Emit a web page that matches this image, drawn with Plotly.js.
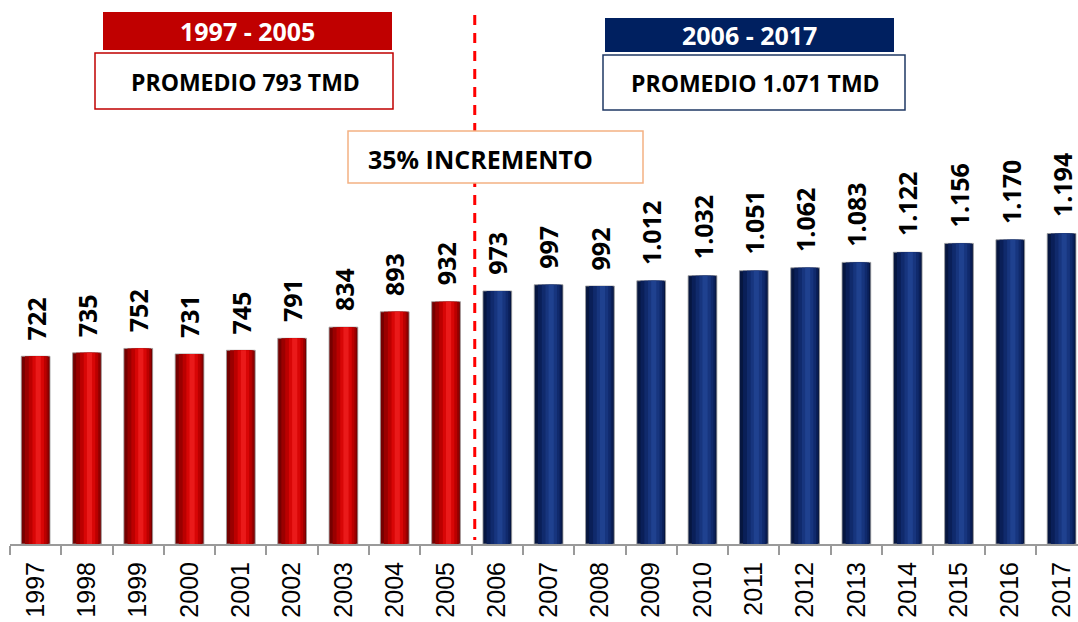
<!DOCTYPE html>
<html>
<head>
<meta charset="utf-8">
<script src="https://cdn.plot.ly/plotly-3.0.1.min.js"></script>
<style>html,body{margin:0;padding:0;background:#fff;}#chart{width:1078px;height:622px;}</style>
</head>
<body>
<div id="chart"></div>
<script>
// ---- data ----
const years = ["1997","1998","1999","2000","2001","2002","2003","2004","2005","2006","2007","2008","2009","2010","2011","2012","2013","2014","2015","2016","2017"];
const valuesA = [722,735,752,731,745,791,834,893,932];            // 1997-2005
const valuesB = [973,997,992,1012,1032,1051,1062,1083,1122,1156,1170,1194]; // 2006-2017
const yearsA = years.slice(0, valuesA.length);
const yearsB = years.slice(valuesA.length);
const periodA = "1997 - 2005";
const periodB = "2006 - 2017";
const avgA = "PROMEDIO 793 TMD";
const avgB = "PROMEDIO 1.071 TMD";
const incText = "35% INCREMENTO";

// ---- layout helpers ----
const W = 1078, H = 622, ML = 10, MT = 0, MB = 78;
const PW = W - ML, PH = H - MT - MB;
const px = x => (x - ML) / PW;
const py = y => 1 - (y - MT) / PH;
const fmt = v => String(v).replace(/\B(?=(\d{3})+(?!\d))/g, ".");

const BW = 0.56;
const redLayers  = [["#760000",1.00,0],["#9a0000",0.82,0.02],["#bb0000",0.62,0.04],["#d80606",0.40,0.05],["#ea1a1a",0.18,0.05]];
const blueLayers = [["#061640",1.00,0],["#0a1f58",0.82,0.02],["#102a6c",0.62,0.04],["#17357e",0.40,0.05],["#1f418f",0.18,0.05]];

const traces = [];
function addLayers(xs, ys, layers) {
  layers.forEach((L, k) => {
    const w = BW * L[1];
    traces.push({
      type: "bar", x: xs, y: ys,
      width: w, offset: -w / 2 + L[2],
      marker: {color: L[0], line: {width: k === 0 ? 0.8 : 0, color: "#9a9a9a"}},
      hoverinfo: "skip", showlegend: false
    });
  });
}
addLayers(yearsA, valuesA, redLayers);
addLayers(yearsB, valuesB, blueLayers);

const annotations = [];
const allVals = valuesA.concat(valuesB);
allVals.forEach((v, i) => {
  annotations.push({
    x: i, y: v, xref: "x", yref: "y",
    text: "<b>" + fmt(v) + "</b>", showarrow: false,
    textangle: -90, yanchor: "bottom", xanchor: "center", yshift: 15, borderpad: 0,
    font: {family: "Open Sans", size: 25, color: "#000"}
  });
});
const boxFont = (s, c) => ({family: "Open Sans", size: s, color: c});
annotations.push(
  {xref:"paper", yref:"paper", x:px(247.5), y:py(31), text:"<b>"+periodA+"</b>", showarrow:false, xanchor:"center", yanchor:"middle", font:boxFont(25,"#fff")},
  {xref:"paper", yref:"paper", x:px(245), y:py(82), text:"<b>"+avgA+"</b>", showarrow:false, xanchor:"center", yanchor:"middle", font:boxFont(23,"#000")},
  {xref:"paper", yref:"paper", x:px(749), y:py(35), text:"<b>"+periodB+"</b>", showarrow:false, xanchor:"center", yanchor:"middle", font:boxFont(25,"#fff")},
  {xref:"paper", yref:"paper", x:px(755), y:py(83), text:"<b>"+avgB+"</b>", showarrow:false, xanchor:"center", yanchor:"middle", font:boxFont(23,"#000")},
  {xref:"paper", yref:"paper", x:px(366), y:py(159), text:"<b>"+incText+"</b>", showarrow:false, xanchor:"left", yanchor:"middle", font:boxFont(25,"#000")}
);

const shapes = [
  {type:"line", xref:"x", yref:"paper", x0:8.56, x1:8.56, y0:py(15), y1:py(540), line:{color:"#ff0000", width:3, dash:"10px,8px"}},
  {type:"rect", xref:"paper", yref:"paper", x0:px(103), x1:px(392), y0:py(50), y1:py(12), fillcolor:"#c00000", line:{width:0}},
  {type:"rect", xref:"paper", yref:"paper", x0:px(95), x1:px(393), y0:py(109), y1:py(53), fillcolor:"#fff", line:{color:"#c00000", width:1.5}},
  {type:"rect", xref:"paper", yref:"paper", x0:px(605), x1:px(894), y0:py(52), y1:py(18), fillcolor:"#002060", line:{width:0}},
  {type:"rect", xref:"paper", yref:"paper", x0:px(603), x1:px(905), y0:py(110), y1:py(55), fillcolor:"#fff", line:{color:"#1f3864", width:1.5}},
  {type:"rect", xref:"paper", yref:"paper", x0:px(348), x1:px(643), y0:py(183), y1:py(131), fillcolor:"#fff", line:{color:"#f4b183", width:1.5}}
];

const layout = {
  width: W, height: H,
  margin: {l: ML, r: 0, t: MT, b: MB, pad: 0},
  paper_bgcolor: "#fff", plot_bgcolor: "#fff",
  barmode: "overlay",
  showlegend: false,
  xaxis: {
    type: "category", range: [-0.5, 20.32],
    tickangle: -90, tickson: "boundaries",
    ticks: "outside", ticklen: 9, tickwidth: 2, tickcolor: "#9a9a9a",
    ticklabelstandoff: 6,
    showline: true, linecolor: "#9a9a9a", linewidth: 2,
    showgrid: false, zeroline: false, fixedrange: true,
    tickfont: {family: "Liberation Sans", size: 25, color: "#000"}
  },
  yaxis: {range: [0, 2092], visible: false, showgrid: false, zeroline: false, fixedrange: true},
  shapes: shapes,
  annotations: annotations
};

Plotly.newPlot("chart", traces, layout, {displayModeBar: false, staticPlot: true});
</script>
</body>
</html>
